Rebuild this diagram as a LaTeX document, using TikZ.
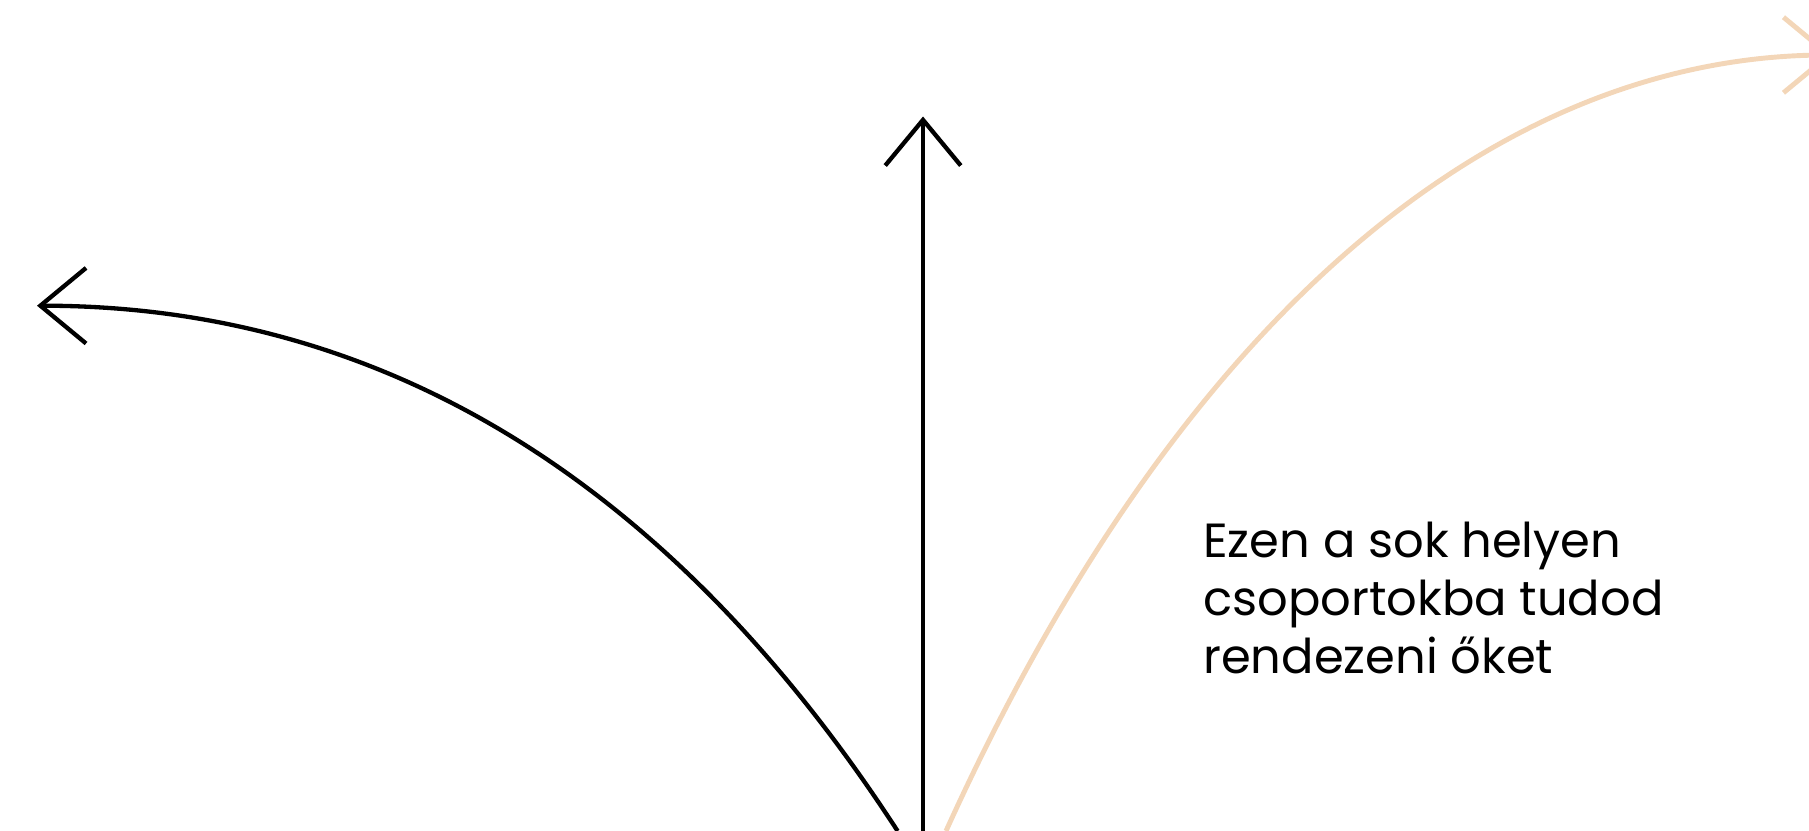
\documentclass[tikz,border=0pt]{standalone}
\usepackage{fontspec}
\setmainfont{Poppins}
\usetikzlibrary{arrows.meta}
\definecolor{peach}{RGB}{243,214,184}
\begin{document}
\begin{tikzpicture}[x=0.02cm, y=-0.02cm,
      arr/.style={line width=2.45pt, line join=miter,
                  -{Straight Barb[length=26pt,width=43pt]}},
      lbl/.style={anchor=base west, inner sep=0pt,
                  font=\fontsize{27.3}{33}\selectfont}
    ]
    \clip (0,0) rectangle (1809,831);
    % Start and end points
    \coordinate (lstart) at (897.6,831);
    \coordinate (mstart) at (923,835);
    \coordinate (rstart) at (946,831);
    \coordinate (ltip) at (37,305.7);
    \coordinate (mtip) at (923,116.5);
    \coordinate (rtip) at (1833,55);
    % Arrows
    \draw[arr] (lstart) .. controls (669.9,480.8) and (383,305.7) .. (ltip);
    \draw[arr] (mstart) -- (mtip);
    \draw[arr, peach, line width=2.8pt] (rstart) .. controls (1182,310) and (1500,55) .. (rtip);
    % Text
    \node[lbl] (line1) at (1203,557) {Ezen a sok helyen};
    \node[lbl] (line2) at (1203,615) {csoportokba tudod};
    \node[lbl] (line3) at (1203,673) {rendezeni őket};
  \end{tikzpicture}
\end{document}
